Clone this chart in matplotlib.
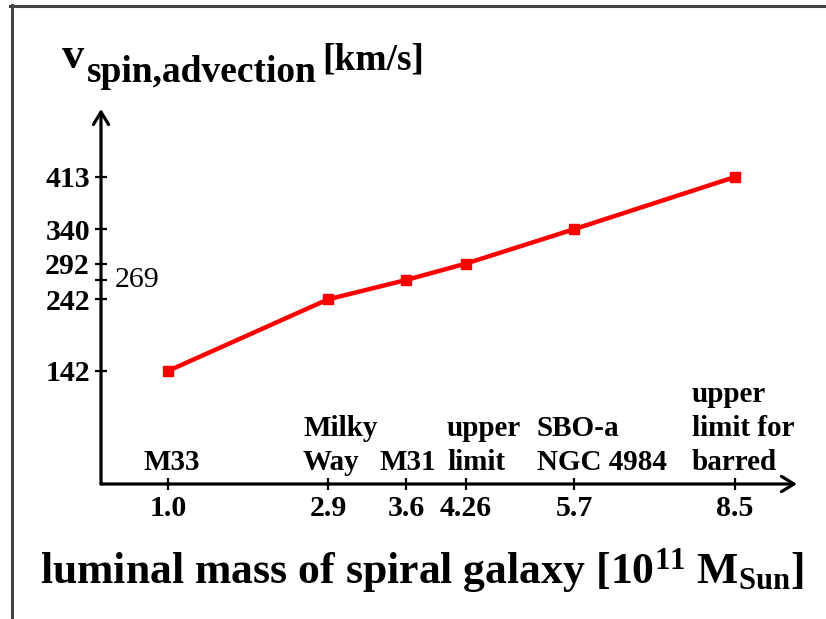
import numpy as np
import matplotlib
matplotlib.use("Agg")
import matplotlib.pyplot as plt
from matplotlib.lines import Line2D

# ---------------- data ----------------
mass = [1.0, 2.9, 3.6, 4.26, 5.7, 8.5]            # 10^11 M_sun
v_spin = [142, 242, 269, 292, 340, 413]           # km/s
xtick_labels = ["1.0", "2.9", "3.6", "4.26", "5.7", "8.5"]
ytick_values = [142, 242, 269, 292, 340, 413]
ytick_left_labels = ["142", "242", "", "292", "340", "413"]
galaxy_labels = ["M33", "Milky\nWay", "M31", "upper\nlimit",
                 "SBO-a\nNGC 4984", "upper\nlimit for\nbarred"]

# ---------------- layout ----------------
W, H, DPI = 826, 619, 100
plt.rcParams["font.family"] = ["Liberation Serif", "DejaVu Serif"]
plt.rcParams["mathtext.fontset"] = "custom"
plt.rcParams["mathtext.rm"] = "Liberation Serif:bold"
plt.rcParams["mathtext.bf"] = "Liberation Serif:bold"
plt.rcParams["mathtext.it"] = "Liberation Serif:bold:italic"

fig = plt.figure(figsize=(W / DPI, H / DPI), dpi=DPI)
fig.patch.set_facecolor("white")


def fx(px):
    return px / W


def fy(py):
    return 1 - py / H


AX_L, AX_R, AX_T, AX_B = 101, 797, 109, 484
ax = fig.add_axes([fx(AX_L), fy(AX_B), (AX_R - AX_L) / W, (AX_B - AX_T) / H])
ax.patch.set_visible(False)

# schematic (non-uniform) x axis: anchor values -> pixel positions
XA = np.array([0.2] + mass + [9.58])
PA = np.array([101, 168, 328, 406, 466, 574, 735, 797], float)


def _extrap(x, a, b):
    x = np.asarray(x, float)
    y = np.interp(x, a, b)
    lo = b[0] + (x - a[0]) * (b[1] - b[0]) / (a[1] - a[0])
    hi = b[-1] + (x - a[-1]) * (b[-1] - b[-2]) / (a[-1] - a[-2])
    return np.where(x < a[0], lo, np.where(x > a[-1], hi, y))


def fwd(x):
    return _extrap(x, XA, PA)


def inv(p):
    return _extrap(p, PA, XA)


ax.set_xscale("function", functions=(fwd, inv))
ax.set_xlim(XA[0], XA[-1])
ax.set_ylim(-16, 508)

for s in ax.spines.values():
    s.set_visible(False)

# red curve
ax.plot(mass, v_spin, color="#ff0000", lw=3.2, marker="s", ms=6.5,
        solid_capstyle="butt", solid_joinstyle="round", zorder=3,
        clip_on=False)

# ticks
ax.set_xticks(mass, xtick_labels)
ax.set_yticks(ytick_values, ytick_left_labels)
ax.minorticks_off()
ax.tick_params(axis="both", direction="inout", length=8, width=1.6,
               color="black", labelsize=21.5, labelcolor="black")
ax.tick_params(axis="x", pad=4)
ax.tick_params(axis="y", pad=4)
for lab in ax.get_yticklabels() + ax.get_xticklabels():
    lab.set_fontweight("bold")

ax.annotate("269", xy=(0, 269), xycoords=("axes fraction", "data"),
            xytext=(10, 0), textcoords="offset points", ha="left",
            va="center", fontsize=21.5)

# axis arrows
arrow_kw = dict(arrowstyle="->,head_length=0.9,head_width=0.55", lw=2.3,
                color="black", shrinkA=0, shrinkB=0)
ax.annotate("", xy=(1, 0), xytext=(0, 0), xycoords="axes fraction",
            arrowprops=arrow_kw)
ax.annotate("", xy=(0, 1), xytext=(0, 0), xycoords="axes fraction",
            arrowprops=arrow_kw)

# galaxy labels (left aligned, last baseline just above axis)
label_left_px = [144, 303, 380, 447, 537, 692]
LAST_BASE, STEP = 470, 34
for txt, lx in zip(galaxy_labels, label_left_px):
    lines = txt.split("\n")
    n = len(lines)
    for i, line in enumerate(lines):
        base = LAST_BASE - (n - 1 - i) * STEP
        fig.text(fx(lx), fy(base), line, fontsize=21, fontweight="bold",
                 ha="left", va="baseline")

# y title
fig.text(fx(62), fy(68), "v", fontsize=32, fontweight="bold", va="baseline")
fig.text(fx(87), fy(82), "spin,advection", fontsize=27, fontweight="bold",
         va="baseline")
fig.text(fx(322), fy(70), "[km/s]", fontsize=27, fontweight="bold",
         va="baseline")

# x title
fig.text(fx(40), fy(583),
         r"luminal mass of spiral galaxy [10$^{11}$ M$_{\mathrm{Sun}}$]",
         fontsize=31.5, fontweight="bold", va="baseline", ha="left")

# frame (top and left edges only)
fig.add_artist(Line2D([fx(11.5), fx(11.5)], [fy(5), fy(619)], color="#444444",
                      lw=2.2, transform=fig.transFigure))
fig.add_artist(Line2D([fx(10), fx(826)], [fy(6), fy(6)], color="#444444",
                      lw=2.2, transform=fig.transFigure))

fig.savefig("out.png", dpi=DPI, facecolor="white")
